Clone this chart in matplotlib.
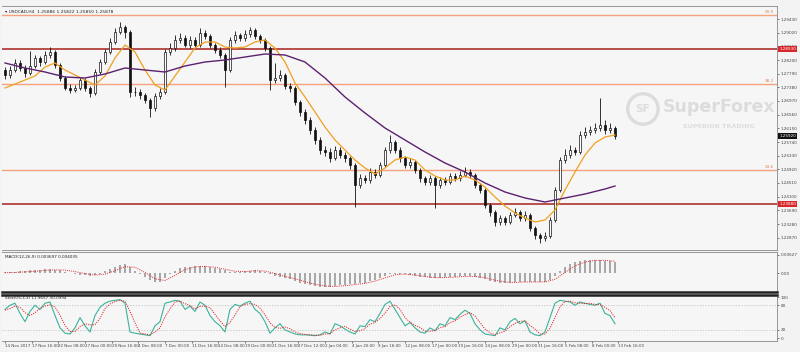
import numpy as np
import matplotlib
matplotlib.use("Agg")
import matplotlib.pyplot as plt
from matplotlib.transforms import blended_transform_factory as btf

# ---------------- data (12h bars, USDCAD) ----------------
closes = [1.2775,1.2790,1.2811,1.2796,1.2781,1.2802,1.2826,1.2814,1.2835,1.2844,
          1.2805,1.2766,1.2736,1.2730,1.2736,1.2760,1.2736,1.2721,1.2784,1.2814,
          1.2844,1.2874,1.2904,1.2919,1.2904,1.2724,1.2724,1.2715,1.2700,1.2676,
          1.2712,1.2724,1.2844,1.2856,1.2880,1.2886,1.2865,1.2880,1.2865,1.2901,
          1.2892,1.2865,1.2850,1.2835,1.2790,1.2880,1.2895,1.2886,1.2898,1.2910,
          1.2892,1.2880,1.2856,1.2760,1.2766,1.2775,1.2742,1.2736,1.2694,1.2664,
          1.2640,1.2610,1.2580,1.2550,1.2544,1.2526,1.2550,1.2535,1.2526,1.2505,
          1.2445,1.2466,1.2460,1.2484,1.2475,1.2505,1.2550,1.2574,1.2550,1.2526,
          1.2505,1.2514,1.2490,1.2466,1.2454,1.2466,1.2445,1.2460,1.2454,1.2472,
          1.2466,1.2475,1.2484,1.2475,1.2445,1.2430,1.2385,1.2364,1.2334,1.2346,
          1.2334,1.2355,1.2364,1.2346,1.2355,1.2316,1.2295,1.2286,1.2292,1.2340,
          1.2430,1.2520,1.2535,1.2550,1.2544,1.2595,1.2604,1.2610,1.2616,1.2625,
          1.2610,1.2616,1.2592]
first_open = 1.2790
highs = [1.2800,1.2803,1.2822,1.2820,1.2805,1.2848,1.2835,1.2832,1.2846,1.2859,
         1.2850,1.2812,1.2771,1.2748,1.2745,1.2770,1.2766,1.2742,1.2792,1.2822,
         1.2853,1.2885,1.2916,1.2934,1.2926,1.2910,1.2738,1.2733,1.2722,1.2706,
         1.2720,1.2735,1.2852,1.2872,1.2894,1.2900,1.2895,1.2892,1.2888,1.2916,
         1.2910,1.2898,1.2872,1.2858,1.2842,1.2890,1.2908,1.2902,1.2910,1.2919,
         1.2915,1.2898,1.2886,1.2862,1.2811,1.2790,1.2780,1.2750,1.2742,1.2700,
         1.2672,1.2648,1.2618,1.2588,1.2562,1.2555,1.2562,1.2560,1.2545,1.2532,
         1.2512,1.2478,1.2475,1.2495,1.2492,1.2515,1.2560,1.2595,1.2580,1.2558,
         1.2532,1.2525,1.2520,1.2496,1.2472,1.2476,1.2472,1.2470,1.2468,1.2482,
         1.2480,1.2486,1.2499,1.2492,1.2480,1.2452,1.2436,1.2392,1.2370,1.2356,
         1.2352,1.2365,1.2376,1.2370,1.2366,1.2360,1.2322,1.2300,1.2304,1.2348,
         1.2438,1.2530,1.2552,1.2566,1.2560,1.2606,1.2618,1.2622,1.2630,1.2706,
         1.2640,1.2630,1.2622]
lows = [1.2762,1.2765,1.2784,1.2788,1.2770,1.2776,1.2795,1.2803,1.2808,1.2826,
        1.2797,1.2757,1.2730,1.2722,1.2724,1.2731,1.2728,1.2709,1.2716,1.2778,
        1.2808,1.2838,1.2868,1.2898,1.2886,1.2709,1.2712,1.2703,1.2690,1.2649,
        1.2668,1.2704,1.2718,1.2835,1.2848,1.2872,1.2858,1.2856,1.2857,1.2860,
        1.2882,1.2856,1.2840,1.2826,1.2739,1.2784,1.2872,1.2876,1.2878,1.2890,
        1.2884,1.2870,1.2846,1.2730,1.2750,1.2758,1.2733,1.2725,1.2685,1.2652,
        1.2628,1.2598,1.2568,1.2538,1.2532,1.2515,1.2520,1.2525,1.2515,1.2494,
        1.2379,1.2436,1.2450,1.2452,1.2465,1.2468,1.2498,1.2542,1.2540,1.2515,
        1.2495,1.2496,1.2480,1.2455,1.2444,1.2446,1.2376,1.2436,1.2444,1.2448,
        1.2456,1.2458,1.2468,1.2466,1.2436,1.2420,1.2375,1.2352,1.2322,1.2326,
        1.2324,1.2328,1.2348,1.2338,1.2338,1.2306,1.2284,1.2271,1.2278,1.2286,
        1.2334,1.2424,1.2510,1.2526,1.2534,1.2538,1.2586,1.2594,1.2600,1.2606,
        1.2598,1.2600,1.2584]

# fast MA (every 2nd bar) and slow MA (every 4th bar + last)
ma_fast = [1.2736,1.2748,1.2760,1.2772,1.2799,1.2811,1.2790,1.2775,1.2760,1.2745,
           1.2772,1.2826,1.2865,1.2844,1.2790,1.2745,1.2730,1.2772,1.2814,1.2856,
           1.2874,1.2874,1.2859,1.2856,1.2859,1.2874,1.2880,1.2856,1.2814,1.2751,
           1.2709,1.2664,1.2619,1.2580,1.2550,1.2520,1.2496,1.2478,1.2496,1.2520,
           1.2529,1.2520,1.2490,1.2472,1.2460,1.2460,1.2472,1.2460,1.2439,1.2409,
           1.2382,1.2361,1.2346,1.2334,1.2340,1.2370,1.2430,1.2484,1.2535,1.2571,
           1.2589,1.2595]
ma_slow = [1.2811,1.2796,1.2784,1.2769,1.2766,1.2778,1.2796,1.2790,1.2784,1.2802,
           1.2814,1.2820,1.2829,1.2838,1.2835,1.2814,1.2766,1.2709,1.2661,1.2616,
           1.2580,1.2544,1.2511,1.2484,1.2451,1.2424,1.2406,1.2394,1.2406,1.2418,
           1.2433,1.2442]

levels_orange = [1.2955, 1.2748, 1.2490]
levels_orange_txt = ["50.0", "38.2", "23.6"]
levels_red = [1.2853, 1.2388]
price_ticks = [1.2943,1.2902,1.2861,1.2820,1.2779,1.2738,1.2697,1.2656,1.2615,
               1.2574,1.2533,1.2492,1.2451,1.2410,1.2369,1.2328,1.2287]

# MACD (units of 1e-4)
macd_hist = [2,3,5,6,7,9,11,12,13,13,12,10,
             5,0,-4,-6,-8,-10,-8,-2,
             6,14,22,28,31,20,
             8,-5,-15,-25,-32,-30,
             -18,-5,8,16,20,22,24,24,23,21,18,15,10,5,
             2,4,6,8,9,8,5,
             -5,-10,-14,-18,-22,-28,-34,-38,-42,-45,-47,-48,-47,-45,-43,-40,-38,
             -38,-35,-33,-28,-24,-18,-10,-4,-2,-3,
             -5,-7,-10,-13,-15,-16,-17,-16,-15,-14,-13,-12,-11,-12,-14,-17,
             -22,-27,-31,-33,-34,-33,-32,-31,-30,-31,-32,-32,-30,-24,
             -10,6,20,30,38,42,44,45,45,44,42,40,37]
macd_signal = [1,2,4,6,9,11,10,5,-2,-7,-4,8,22,20,2,-20,-26,-8,12,21,23,20,13,6,
               5,8,7,-2,-12,-20,-30,-39,-45,-47,-44,-40,-36,-28,-17,-6,-4,-7,-12,
               -16,-16,-14,-12,-12,-16,-25,-31,-33,-31,-31,-31,-22,2,25,38,44,44,41]

# Stochastic
stoch_k = [70,80,85,60,40,65,80,70,85,88,55,25,12,10,25,50,30,15,55,75,85,90,92,94,
           85,15,12,10,8,6,30,40,85,88,92,90,70,78,65,88,80,55,40,30,15,70,82,78,
           85,90,70,60,40,12,25,35,20,15,10,8,8,7,6,8,15,10,35,30,22,15,10,30,28,
           45,40,60,82,90,70,50,30,38,25,15,12,25,18,35,30,50,45,58,68,60,35,20,
           10,8,6,25,20,40,48,35,42,15,8,6,15,50,85,92,90,88,80,88,85,82,80,85,
           60,55,35]
stoch_d = [68,72,78,75,62,55,62,72,78,81,76,56,31,16,16,28,35,32,33,48,72,83,89,92,
           90,65,37,12,10,8,15,25,52,71,88,90,84,79,71,77,78,74,58,42,28,38,56,77,
           82,84,82,73,57,37,26,24,27,23,15,11,9,8,7,7,10,11,20,25,29,22,16,18,23,
           34,38,48,61,77,81,70,50,39,31,26,17,17,18,26,28,38,42,51,57,62,54,38,
           22,13,8,13,17,28,36,41,42,31,22,10,10,24,50,76,89,90,86,85,84,85,82,82,
           75,67,50]

date_labels = ["14 Nov 2017","17 Nov 16:00","22 Nov 08:00","27 Nov 00:00","29 Nov 16:00",
               "4 Dec 08:00","7 Dec 00:00","11 Dec 16:00","14 Dec 08:00","19 Dec 00:00",
               "21 Dec 16:00","27 Dec 12:00","2 Jan 04:00","4 Jan 20:00","9 Jan 16:00",
               "12 Jan 08:00","17 Jan 00:00","19 Jan 16:00","24 Jan 08:00","29 Jan 00:00",
               "31 Jan 16:00","5 Feb 08:00","8 Feb 00:00","13 Feb 16:00"]
title = "\u25be USDCAD,H4  1.25886 1.25822 1.25850 1.25878"

# ---------------- layout ----------------
W, H = 800, 352
fig = plt.figure(figsize=(8, 3.52), dpi=100)
BG = "#f6f6f6"
fig.patch.set_facecolor("#f3f3f3")

def px_axes(x0, y0, x1, y1):
    return fig.add_axes([x0 / W, 1 - y1 / H, (x1 - x0) / W, (y1 - y0) / H])

ax = px_axes(2, 6, 777, 250)
axm = px_axes(2, 252, 777, 292)
axs = px_axes(2, 295, 777, 341)

n = len(closes)
x = np.arange(n)
opens = [first_open] + closes[:-1]
XL = (-0.6, 154.4)
FS = 3.0

for a in (ax, axm, axs):
    a.set_facecolor(BG)
    a.set_xlim(*XL)
    a.yaxis.tick_right()
    a.tick_params(axis="both", labelsize=FS, length=1.5, width=0.5, colors="#444444", pad=1.2)
    for s in a.spines.values():
        s.set_color("#888888")
        s.set_linewidth(0.6)
    a.set_xticks([])
    a.spines["left"].set_visible(False)

# ---- main price panel ----
ax.set_ylim(1.2250, 1.2982)
for lv in levels_orange:
    ax.axhline(lv, color="#f2a27c", lw=1.0, zorder=1)
for lv, t in zip(levels_orange, levels_orange_txt):
    ax.text(153.8, lv + 0.0002, t, fontsize=3.0, color="#e08050", ha="right", va="bottom")
for lv in levels_red:
    ax.axhline(lv, color="#a8201e", lw=1.1, zorder=1)

# watermark
WM = "#dcdcdc"
ax.text(0.852, 0.585, "SuperForex", transform=ax.transAxes, fontsize=12.5, color=WM,
        ha="left", va="center", fontweight="bold", zorder=0)
ax.text(0.925, 0.505, "SUPERIOR TRADING", transform=ax.transAxes, fontsize=4.6,
        color=WM, ha="center", va="center", fontweight="bold", zorder=0)
ax.scatter([0.827], [0.578], s=480, transform=ax.transAxes, facecolors="none",
           edgecolors=WM, linewidths=2.4, zorder=0)
ax.text(0.827, 0.578, "SF", transform=ax.transAxes, fontsize=7.5, color=WM,
        ha="center", va="center", fontweight="bold", zorder=0)

# candles
o = np.array(opens); c = np.array(closes)
ax.vlines(x, lows, highs, color="#111111", lw=0.6, zorder=3)
up = c >= o
ax.bar(x[up], (c - o)[up], bottom=o[up], width=0.55, color="white",
       edgecolor="#111111", linewidth=0.5, zorder=4)
ax.bar(x[~up], (c - o)[~up], bottom=o[~up], width=0.55, color="#111111",
       edgecolor="#111111", linewidth=0.5, zorder=4)

ax.plot(np.arange(0, n, 2), ma_fast, color="#f0a020", lw=0.9, zorder=5)
slow_x = list(range(0, n, 4)) + [n - 1]
ax.plot(slow_x, ma_slow, color="#5c2070", lw=1.0, zorder=5)

ax.set_yticks(price_ticks)
ax.set_yticklabels([f"{p:.5f}" for p in price_ticks])
ax.text(0.004, 0.985, title, transform=ax.transAxes, fontsize=3.2, color="#222222",
        va="top", ha="left")

tr = btf(ax.transAxes, ax.transData)
for lv in levels_red:
    ax.text(1.003, lv, f"{lv:.5f}", transform=tr, fontsize=FS, color="white",
            va="center", ha="left", zorder=10,
            bbox=dict(boxstyle="square,pad=0.2", fc="#d8262a", ec="none"))
ax.text(1.003, closes[-1], f"{closes[-1]:.5f}", transform=tr, fontsize=FS, color="white",
        va="center", ha="left", zorder=10,
        bbox=dict(boxstyle="square,pad=0.2", fc="#111111", ec="none"))

# ---- MACD ----
hist = np.array(macd_hist) * 1e-4
axm.set_ylim(-0.0066, 0.0073)
axm.bar(x, hist, width=0.3, color="#a8a8a8", zorder=3)
axm.plot(np.arange(0, n, 2), np.array(macd_signal) * 1e-4, color="#e02828", lw=0.7,
         ls=(0, (1, 1.2)), zorder=4)
axm.set_yticks([0.00627, 0.0])
axm.set_yticklabels(["0.00627", "0.00"])
axm.text(0.004, 0.93, "MACD(12,26,9) 0.003697 0.004035", transform=axm.transAxes,
         fontsize=3.0, color="#222222", va="top", ha="left")
axm.spines["bottom"].set_linewidth(1.8)
axm.spines["bottom"].set_color("#222222")

# ---- Stochastic ----
axs.set_ylim(-7, 105)
axs.axhline(80, color="#bbbbbb", lw=0.5, ls=(0, (2, 2)))
axs.axhline(20, color="#bbbbbb", lw=0.5, ls=(0, (2, 2)))
axs.plot(x, stoch_k, color="#3ab39c", lw=0.8, zorder=3)
axs.plot(x, stoch_d, color="#e02828", lw=0.7, ls=(0, (1.2, 1.2)), zorder=4)
axs.set_yticks([100, 80, 20, 0])
axs.set_yticklabels(["100", "80", "20", "0"])
axs.text(0.004, 0.985, "Stoch(5,3,3) 11.9657 30.0994", transform=axs.transAxes,
         fontsize=3.0, color="#222222", va="top", ha="left")
axs.spines["top"].set_linewidth(1.8)
axs.spines["top"].set_color("#222222")

tick_pos = [i * 16 / 3 for i in range(len(date_labels))]
axs.set_xticks(tick_pos)
axs.set_xticklabels(date_labels, ha="left")
axs.tick_params(axis="x", labelsize=2.9, length=1.5, pad=1)

fig.savefig("out.png", dpi=100, facecolor=fig.get_facecolor())
